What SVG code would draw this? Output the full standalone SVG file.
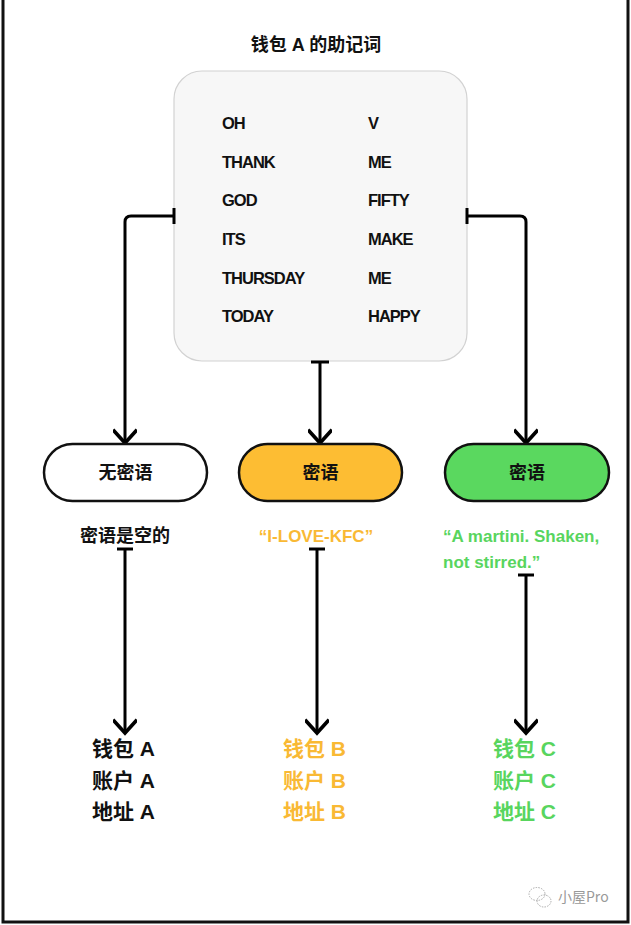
<svg xmlns="http://www.w3.org/2000/svg" width="631" height="925" viewBox="0 0 631 925">
<defs>
<style>
.t{font-family:"Liberation Sans","Noto Sans CJK SC",sans-serif;font-weight:bold;}
.w{font-size:16.5px;fill:#111;letter-spacing:-1px;}
.c{stroke:#000;stroke-width:3;fill:none;stroke-linecap:butt;stroke-linejoin:miter;}
.pill{stroke:#111;stroke-width:2.5;}
.lbl{font-size:21px;}
</style>
<marker id="ah" viewBox="0 0 20 20" refX="17" refY="10" markerWidth="24" markerHeight="24" markerUnits="userSpaceOnUse" orient="auto">
<path d="M6,0 L17,10 L6,20" fill="none" stroke="#000" stroke-width="3"/>
</marker>
</defs>
<rect width="631" height="925" fill="#fff"/>
<path d="M3,0 V922 H628 V0" fill="none" stroke="#111" stroke-width="3"/>

<text class="t" x="316" y="51" font-size="18" text-anchor="middle" fill="#111">钱包 A 的助记词</text>

<g id="mnemonic">
<rect x="174" y="71" width="293" height="290" rx="28" fill="#f7f7f7" stroke="#d2d2d2" stroke-width="1.2"/>
<g class="t w">
<text x="222" y="129">OH</text>
<text x="222" y="168">THANK</text>
<text x="222" y="206">GOD</text>
<text x="222" y="245">ITS</text>
<text x="222" y="284">THURSDAY</text>
<text x="222" y="322">TODAY</text>
<text x="368" y="129">V</text>
<text x="368" y="168">ME</text>
<text x="368" y="206">FIFTY</text>
<text x="368" y="245">MAKE</text>
<text x="368" y="284">ME</text>
<text x="368" y="322">HAPPY</text>
</g>
</g>

<g id="connectors">
<path class="c" d="M174,216 H131 Q125,216 125,222 V443" marker-end="url(#ah)"/>
<path class="c" d="M174,208 V224" stroke-width="3.5"/>
<path class="c" d="M467,216 H520 Q526,216 526,222 V443" marker-end="url(#ah)"/>
<path class="c" d="M467,208 V224" stroke-width="3.5"/>
<path class="c" d="M320,362 V443" marker-end="url(#ah)"/>
<path class="c" d="M311,362 H329" stroke-width="3.5"/>
<path class="c" d="M125,549 V733" marker-end="url(#ah)"/>
<path class="c" d="M117,549 H133" stroke-width="3.5"/>
<path class="c" d="M317,549 V733" marker-end="url(#ah)"/>
<path class="c" d="M309,549 H325" stroke-width="3.5"/>
<path class="c" d="M526,575 V733" marker-end="url(#ah)"/>
<path class="c" d="M518,575 H534" stroke-width="3.5"/>
</g>

<g id="nopass">
<rect class="pill" x="44" y="444" width="163" height="57" rx="28.5" fill="#fff"/>
<text class="t" x="125.5" y="479" font-size="18" text-anchor="middle" fill="#111">无密语</text>
<text class="t" x="125" y="542" font-size="18" text-anchor="middle" fill="#111">密语是空的</text>
</g>

<g id="passB">
<rect class="pill" x="239" y="444" width="163" height="57" rx="28.5" fill="#fdbd33"/>
<text class="t" x="320.5" y="479" font-size="18" text-anchor="middle" fill="#111">密语</text>
<text class="t" x="316" y="542" font-size="17" text-anchor="middle" fill="#f9b934">“I-LOVE-KFC”</text>
</g>

<g id="passC">
<rect class="pill" x="445" y="444" width="164" height="57" rx="28.5" fill="#5ad85f"/>
<text class="t" x="527" y="479" font-size="18" text-anchor="middle" fill="#111">密语</text>
<text class="t" x="443" y="542" font-size="17" fill="#58d55e">“A martini. Shaken,</text>
<text class="t" x="443" y="568" font-size="17" fill="#58d55e">not stirred.”</text>
</g>

<g id="walletA" class="t lbl" fill="#111">
<text x="92" y="756">钱包 A</text>
<text x="92" y="788">账户 A</text>
<text x="92" y="819">地址 A</text>
</g>
<g id="walletB" class="t lbl" fill="#f9b934">
<text x="283" y="756">钱包 B</text>
<text x="283" y="788">账户 B</text>
<text x="283" y="819">地址 B</text>
</g>
<g id="walletC" class="t lbl" fill="#58d55e">
<text x="493" y="756">钱包 C</text>
<text x="493" y="788">账户 C</text>
<text x="493" y="819">地址 C</text>
</g>

<g id="watermark" fill="none" stroke="#aaa" stroke-width="1" stroke-dasharray="1.5 1.2">
<ellipse cx="537" cy="894" rx="8" ry="6.5"/>
<ellipse cx="544" cy="901" rx="7" ry="6"/>
<text x="558" y="902" font-family="'Noto Sans CJK SC',sans-serif" font-size="14" fill="#999" stroke="none" stroke-dasharray="none">小屋Pro</text>
</g>
</svg>
